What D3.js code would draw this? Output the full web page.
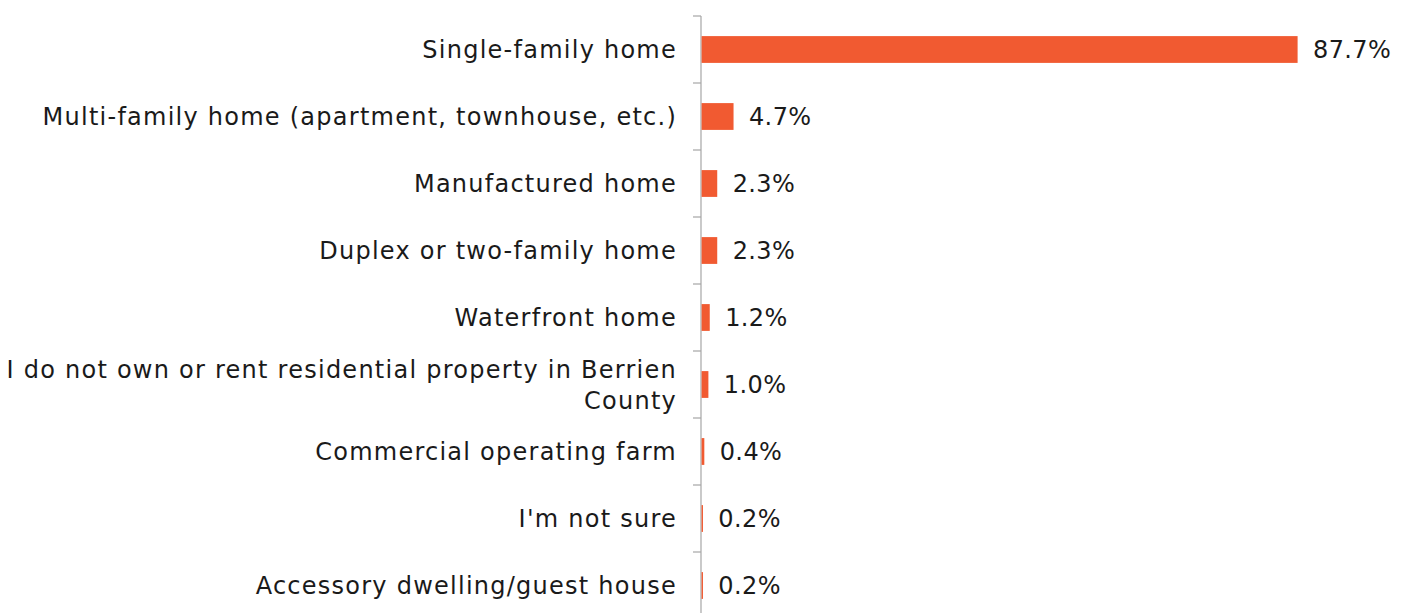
<!DOCTYPE html>
<html>
<meta charset="utf-8">
<head>
    <script src="https://d3js.org/d3.v7.min.js"></script>
    <style>
        body { margin: 0; background: #fff; }
    </style>
</head>
<body>
    <div id="my_dataviz"></div>
</body>

<script>
    // categories and values, top to bottom
    const categories = [
        "Single-family home",
        "Multi-family home (apartment, townhouse, etc.)",
        "Manufactured home",
        "Duplex or two-family home",
        "Waterfront home",
        "I do not own or rent residential property in Berrien County",
        "Commercial operating farm",
        "I'm not sure",
        "Accessory dwelling/guest house"
    ];
    const values = [87.7, 4.7, 2.3, 2.3, 1.2, 1.0, 0.4, 0.2, 0.2];
    // how the long label is broken over two lines
    const labelLines = {
        "I do not own or rent residential property in Berrien County":
            ["I do not own or rent residential property in Berrien", "County"]
    };

    const W = 1408, H = 613;
    const margin = { top: 16, left: 701 };
    const step = 67;
    const fs = 24;

    const svg = d3.select("#my_dataviz")
        .append("svg")
            .attr("width", W)
            .attr("height", H)
            .style("font-family", "'DejaVu Sans', sans-serif");

    const g = svg.append("g")
        .attr("transform", `translate(${margin.left}, ${margin.top})`);

    // Y axis (bands)
    const y = d3.scaleBand()
        .domain(categories)
        .range([0, step * categories.length])
        .paddingInner(0.6)
        .paddingOuter(0.3);

    // X scale
    const x = d3.scaleLinear()
        .domain([0, 87.7])
        .range([0, 596]);

    // axis line + tick marks at band boundaries
    g.append("line")
        .attr("x1", 0).attr("x2", 0)
        .attr("y1", 0).attr("y2", H)
        .attr("stroke", "#a6a6a6")
        .attr("stroke-width", 1.2);

    g.selectAll("line.tick")
        .data(d3.range(categories.length))
        .join("line")
            .attr("class", "tick")
            .attr("x1", -8).attr("x2", 0)
            .attr("y1", i => i * step)
            .attr("y2", i => i * step)
            .attr("stroke", "#a6a6a6")
            .attr("stroke-width", 1.2);

    // Bars
    g.selectAll("rect.bar")
        .data(categories)
        .join("rect")
            .attr("class", "bar")
            .attr("x", 0.6)
            .attr("y", d => y(d))
            .attr("width", (d, i) => x(values[i]))
            .attr("height", y.bandwidth())
            .attr("fill", "#f15a31");

    // Value labels
    g.selectAll("text.val")
        .data(categories)
        .join("text")
            .attr("class", "val")
            .attr("x", (d, i) => x(values[i]) + 16)
            .attr("y", d => y(d) + y.bandwidth() / 2)
            .attr("dy", "0.36em")
            .attr("font-size", fs)
            .attr("letter-spacing", 0.4)
            .attr("fill", "#1a1a1a")
            .text((d, i) => values[i].toFixed(1) + "%");

    // Category labels
    const lab = g.selectAll("text.cat")
        .data(categories)
        .join("text")
            .attr("class", "cat")
            .attr("text-anchor", "end")
            .attr("font-size", fs)
            .attr("letter-spacing", 1.25)
            .attr("fill", "#1a1a1a")
            .attr("y", d => y(d) + y.bandwidth() / 2);

    lab.each(function(d) {
        const lines = labelLines[d] || [d];
        const t = d3.select(this);
        const lh = 31;
        lines.forEach((ln, k) => {
            t.append("tspan")
                .attr("x", -24)
                .attr("dy", k === 0 ? (0.36 * fs - (lines.length - 1) * lh / 2) : lh)
                .text(ln);
        });
    });
</script>
</html>
